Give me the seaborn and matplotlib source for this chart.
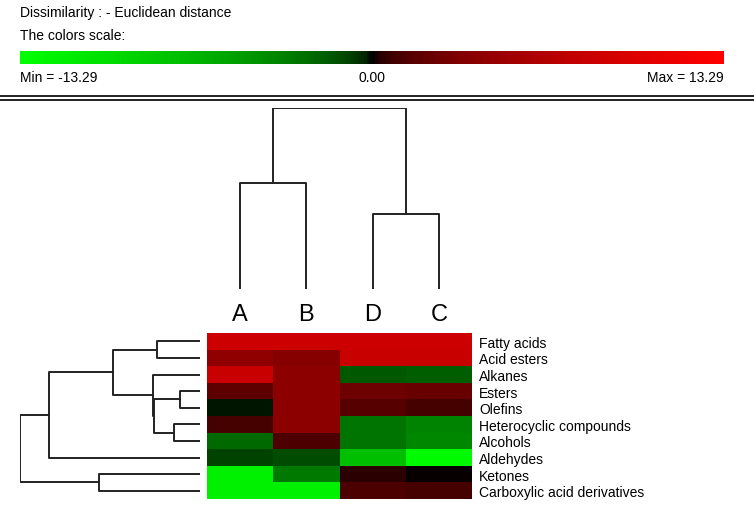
import numpy as np
import pandas as pd
import matplotlib
matplotlib.use('Agg')
import matplotlib.pyplot as plt
from matplotlib.colors import LinearSegmentedColormap, Normalize
from matplotlib.cm import ScalarMappable
from matplotlib.lines import Line2D
import seaborn as sns

# data
samples = ['A', 'B', 'D', 'C']
compounds = ['Fatty acids', 'Acid esters', 'Alkanes', 'Esters', 'Olefins',
             'Heterocyclic compounds', 'Alcohols', 'Aldehydes', 'Ketones',
             'Carboxylic acid derivatives']
col_A = [8.5, 4.3, 8.2, 1.84, -0.15, 1.0, -2.25, -0.86, -11.8, -11.8]
col_B = [8.5, 3.7, 4.0, 4.0, 4.0, 4.0, 1.15, -1.15, -2.94, -11.8]
col_D = [8.5, 8.2, -1.66, 2.47, 1.48, -2.7, -2.7, -7.4, 0.41, 1.15]
col_C = [8.5, 8.2, -1.84, 2.25, 1.0, -3.45, -3.72, -12.8, 0.02, 1.0]
vmin, vmax = -13.29, 13.29

# linkage (child, child, height) - leaves numbered in display order
row_merges = [(3, 4, 20), (5, 6, 26), (0, 1, 43), (10, 11, 46), (2, 13, 47),
              (12, 14, 87), (8, 9, 101), (15, 7, 151), (17, 16, 180)]
col_merges = [(0, 1, 105), (2, 3, 75), (4, 5, 180)]

df = pd.DataFrame({'A': col_A, 'B': col_B, 'D': col_D, 'C': col_C}, index=compounds)[samples]

# green - black - red scale, brightness rising like a square root from the middle
p = np.linspace(0, 1, 101)
t = np.sqrt(np.abs(p - 0.5) / 0.5)
cmap = LinearSegmentedColormap.from_list(
    'gbr', [(pi, (ti if pi > 0.5 else 0, ti if pi < 0.5 else 0, 0)) for pi, ti in zip(p, t)])

plt.rcParams['font.family'] = ['Liberation Sans', 'DejaVu Sans']
W, H = 754, 506
fig = plt.figure(figsize=(W / 100, H / 100), dpi=100)


def px_axes(x0, y0, x1, y1):
    return fig.add_axes([x0 / W, 1 - y1 / H, (x1 - x0) / W, (y1 - y0) / H])


def dendro_segments(n, merges):
    pos = [i + 0.5 for i in range(n)]
    hgt = [0] * n
    segs = []
    for a, b, h in merges:
        segs.append(([pos[a], pos[a], pos[b], pos[b]], [hgt[a], h, h, hgt[b]]))
        pos.append((pos[a] + pos[b]) / 2)
        hgt.append(h)
    return segs


# header
fig.text(20 / W, 1 - 13 / H, 'Dissimilarity : - Euclidean distance', fontsize=10, va='center')
fig.text(20 / W, 1 - 36 / H, 'The colors scale:', fontsize=10, va='center')
cax = px_axes(20, 52, 724, 65)
cb = fig.colorbar(ScalarMappable(Normalize(vmin, vmax), cmap), cax=cax, orientation='horizontal')
cb.set_ticks([])
cb.outline.set_visible(False)
fig.text(20 / W, 1 - 78 / H, f'Min = {vmin:.2f}', fontsize=10, va='center')
fig.text(372 / W, 1 - 78 / H, f'{0:.2f}', fontsize=10, va='center', ha='center')
fig.text(724 / W, 1 - 78 / H, f'Max = {vmax:.2f}', fontsize=10, va='center', ha='right')
for yy in (97, 101):
    fig.add_artist(Line2D([0, 1], [1 - yy / H] * 2, color='#222222', lw=1.4))

# heatmap
ax = px_axes(207, 334, 472, 500)
sns.heatmap(df, cmap=cmap, vmin=vmin, vmax=vmax, cbar=False, ax=ax)
ax.yaxis.tick_right()
ax.set_yticklabels(compounds, rotation=0, fontsize=10, va='center_baseline')
ax.xaxis.tick_top()
ax.set_xticklabels(samples, fontsize=17)
ax.tick_params(length=0, pad=5)
ax.tick_params(axis='x', pad=6)
ax.set_xlabel('')
ax.set_ylabel('')

# column dendrogram
axc = px_axes(207, 109, 472, 290)
for xs, ys in dendro_segments(len(samples), col_merges):
    axc.plot(xs, ys, color='#222222', lw=1.4)
axc.set_xlim(0, len(samples))
axc.set_ylim(0, 180)
axc.axis('off')

# row dendrogram
axr = px_axes(20, 334, 200, 500)
for ps, hs in dendro_segments(len(compounds), row_merges):
    axr.plot(hs, ps, color='#222222', lw=1.4)
axr.set_ylim(len(compounds), 0)
axr.set_xlim(180, 0)
axr.axis('off')

fig.savefig('out.png', dpi=100)
